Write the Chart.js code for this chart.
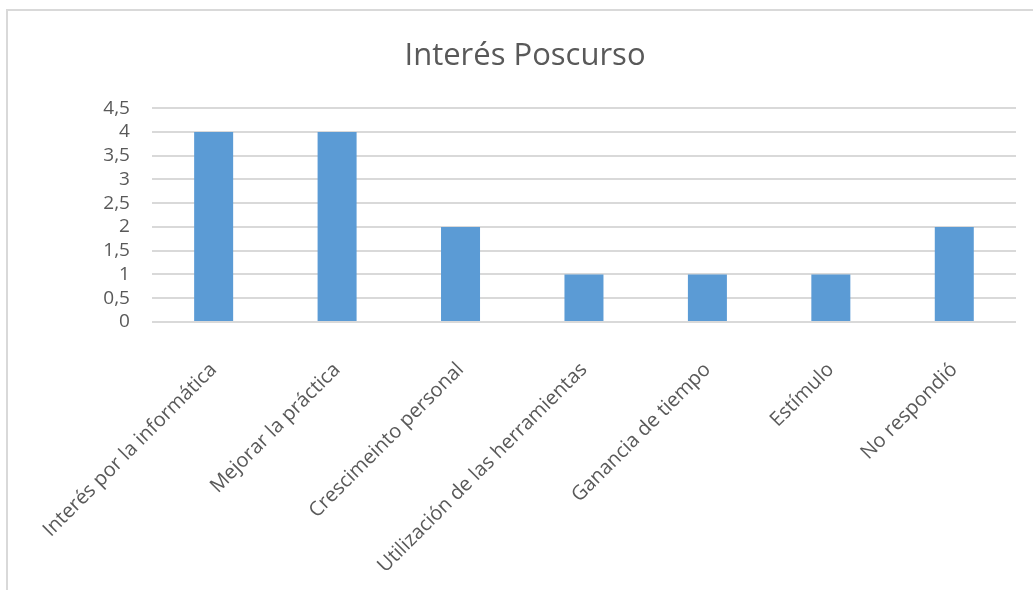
<!DOCTYPE html>
<html>
<head>
<meta charset="utf-8">
<script src="https://cdn.jsdelivr.net/npm/chart.js@4/dist/chart.umd.min.js"></script>
<style>
  html, body { margin: 0; padding: 0; background: #fff; }
  #wrap { position: relative; width: 1033px; height: 590px; overflow: hidden; }
  #frame {
    position: absolute; left: 6px; top: 9px; right: -5px; bottom: -5px;
    border-left: 2px solid #d9d9d9; border-top: 2px solid #d9d9d9;
  }
  canvas { position: absolute; left: 0; top: 0; }
</style>
</head>
<body>
<div id="wrap">
  <div id="frame"></div>
  <canvas id="chart" width="1033" height="590"></canvas>
</div>
<script>
/* ========================================
   DATA
======================================== */
const categories = [
  "Interés por la informática",
  "Mejorar la práctica",
  "Crescimeinto personal",
  "Utilización de las herramientas",
  "Ganancia de tiempo",
  "Estímulo",
  "No respondió"
];
const values = [4, 4, 2, 1, 1, 1, 2];
const yMin = 0, yMax = 4.5, yStep = 0.5;

const TEXT = "#595959";
const FONT = "'Open Sans', 'DejaVu Sans', sans-serif";

/* ========================================
   CHART
======================================== */
new Chart(document.getElementById("chart"), {
  type: "bar",
  data: {
    labels: categories,
    datasets: [{
      data: values,
      backgroundColor: "#5b9bd5",
      categoryPercentage: 0.316,
      barPercentage: 1
    }]
  },
  options: {
    responsive: false,
    animation: false,
    // left padding only shifts the title centre; plot still starts at x=150
    layout: { padding: { left: 34, right: 17, top: 0, bottom: 0 } },
    plugins: {
      legend: { display: false },
      tooltip: { enabled: false },
      title: {
        display: true,
        text: "Interés Poscurso",
        color: TEXT,
        font: { family: FONT, size: 31, weight: "normal" },
        padding: { top: 38, bottom: 33 }
      }
    },
    scales: {
      x: {
        grid: { display: false, drawTicks: false },
        border: { display: false },
        ticks: {
          color: TEXT,
          font: { family: FONT, size: 20 },
          minRotation: 45,
          maxRotation: 45,
          padding: 36,
          autoSkip: false
        },
        afterFit: s => { s.height = 268; }
      },
      y: {
        min: yMin,
        max: yMax,
        grid: { color: "#d9d9d9", lineWidth: 2, drawTicks: false },
        border: { display: false },
        ticks: {
          stepSize: yStep,
          autoSkip: false,
          color: TEXT,
          font: { family: FONT, size: 19 },
          padding: 22,
          callback: v => String(v).replace(".", ",")
        },
        afterFit: s => { s.width = 116; }
      }
    }
  }
});
</script>
</body>
</html>
